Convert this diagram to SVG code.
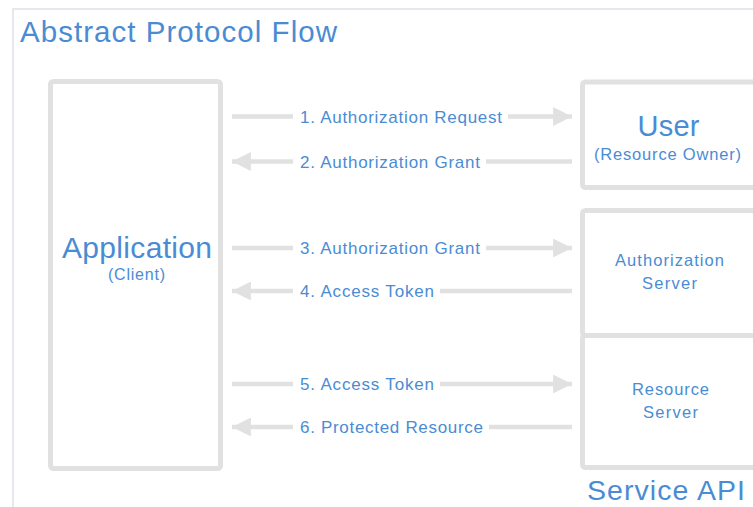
<svg xmlns="http://www.w3.org/2000/svg" width="753" height="507" viewBox="0 0 753 507">
<defs>
<style>
text{font-family:"Liberation Sans",Arial,sans-serif;fill:#4a8cd4}
.box{fill:#fff;stroke:#e1e1e1;stroke-width:5}
.ln{stroke:#e1e1e1;stroke-width:4.5;fill:none}
.bg{fill:#fff}
.lbl{font-size:17px}
.big{font-size:30px}
.sm{font-size:16px}
.md{font-size:16.5px}
</style>
<marker id="ah" viewBox="0 0 10 10" refX="10" refY="5" markerWidth="4.2" markerHeight="4.2" orient="auto" markerUnits="strokeWidth">
<path d="M0,0 L10,5 L0,10 z" fill="#e1e1e1"/>
</marker>
</defs>
<rect width="753" height="507" fill="#fff"/>
<path d="M13,507 V9 H753" fill="none" stroke="#e6e8ee" stroke-width="2"/>
<text id="title" x="20" y="42" style="font-size:29.5px" textLength="317">Abstract Protocol Flow</text>
<g id="application">
<rect class="box" x="50.5" y="81.5" width="170" height="387" rx="3"/>
<text class="big" x="62" y="258" textLength="150">Application</text>
<text class="sm" x="108" y="280" textLength="57">(Client)</text>
</g>
<g id="user">
<rect class="box" x="582.5" y="82" width="180" height="105.5" rx="3"/>
<text x="637.5" y="136" style="font-size:29px" textLength="62">User</text>
<text x="594" y="160" style="font-size:16.5px" textLength="147">(Resource Owner)</text>
</g>
<g id="authorization-server">
<rect class="box" x="582.5" y="210.5" width="180" height="125" rx="3"/>
<text class="md" x="615" y="266" textLength="109">Authorization</text>
<text class="md" x="642" y="289" textLength="55">Server</text>
</g>
<g id="resource-server">
<rect class="box" x="582.5" y="335.5" width="180" height="132" rx="3"/>
<text class="md" x="632" y="395" textLength="77">Resource</text>
<text class="md" x="643" y="418" textLength="55">Server</text>
</g>
<text id="service-api" x="587" y="499.5" style="font-size:28.5px" textLength="158">Service API</text>
<g id="connectors">
<line class="ln" x1="232" y1="116.5" x2="572" y2="116.5" marker-end="url(#ah)"/>
<line class="ln" x1="572" y1="161.5" x2="232" y2="161.5" marker-end="url(#ah)"/>
<line class="ln" x1="232" y1="248" x2="572" y2="248" marker-end="url(#ah)"/>
<line class="ln" x1="572" y1="291" x2="232" y2="291" marker-end="url(#ah)"/>
<line class="ln" x1="232" y1="384" x2="572" y2="384" marker-end="url(#ah)"/>
<line class="ln" x1="572" y1="427" x2="232" y2="427" marker-end="url(#ah)"/>
<rect class="bg" x="293" y="106" width="215" height="21"/>
<rect class="bg" x="293" y="151" width="193" height="21"/>
<rect class="bg" x="293" y="238" width="193" height="21"/>
<rect class="bg" x="293" y="281" width="147" height="21"/>
<rect class="bg" x="293" y="374" width="147" height="21"/>
<rect class="bg" x="293" y="417" width="196" height="21"/>
<text class="lbl" x="300" y="122.5" textLength="202">1. Authorization Request</text>
<text class="lbl" x="300" y="167.5" textLength="180">2. Authorization Grant</text>
<text class="lbl" x="300" y="254" textLength="180">3. Authorization Grant</text>
<text class="lbl" x="300" y="297" textLength="134">4. Access Token</text>
<text class="lbl" x="300" y="390" textLength="134">5. Access Token</text>
<text class="lbl" x="300" y="433" textLength="183">6. Protected Resource</text>
</g>
</svg>
